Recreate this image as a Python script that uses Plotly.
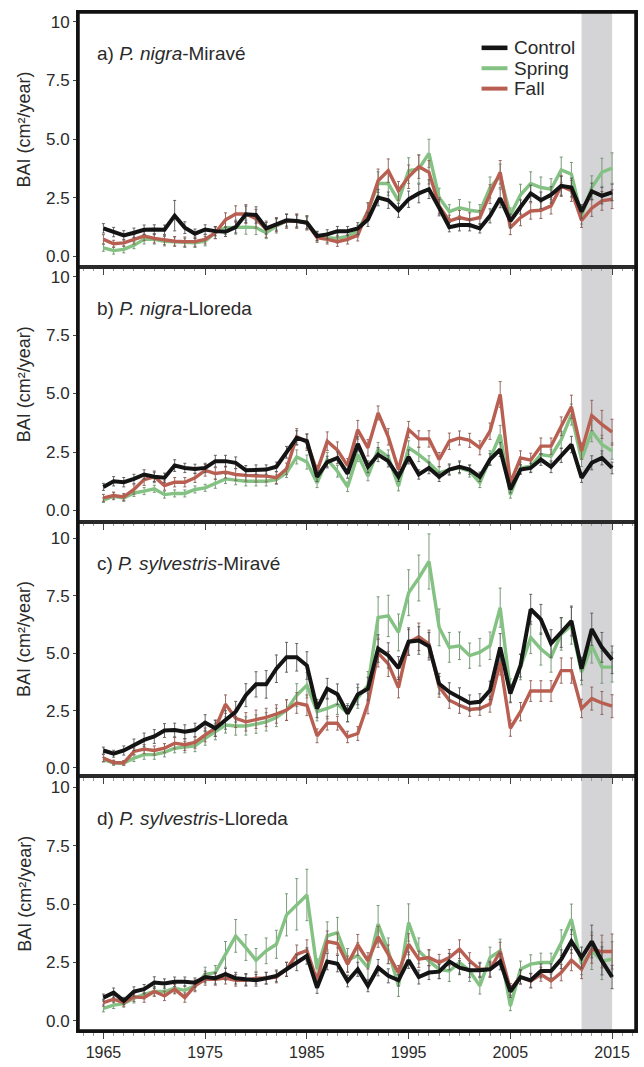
import plotly.graph_objects as go
from plotly.subplots import make_subplots

years = list(range(1965, 2016))

# ---- a) P. nigra - Miravé ----
control_a = [1.19, 1.03, 0.89, 1.0, 1.13, 1.14, 1.13, 1.73, 1.22, 0.96,
             1.14, 1.07, 1.04, 1.24, 1.79, 1.76, 1.19, 1.36, 1.53, 1.5,
             1.43, 0.86, 0.93, 1.07, 1.07, 1.18,
             1.57, 2.5, 2.39, 1.96, 2.43, 2.68, 2.86, 2.07, 1.24, 1.33,
             1.33, 1.19, 1.72, 2.47, 1.5, 2.1, 2.68, 2.39, 2.62, 3.0,
             2.93, 1.9, 2.77, 2.58, 2.72]
spring_a = [0.36, 0.24, 0.29, 0.47, 0.72, 0.72, 0.64, 0.62, 0.57, 0.57,
            0.64, 1.0, 1.22, 1.24, 1.24, 1.22, 1.0, 1.29, 1.5, 1.5,
            1.43, 0.86, 0.79, 0.76, 0.86, 1.07,
            1.93, 3.1, 3.1, 2.36, 3.65, 3.72, 4.39, 2.5, 1.9, 2.07,
            1.96, 1.9, 2.93, 3.43, 1.76, 2.62, 3.1, 2.93, 2.86, 3.68,
            3.5, 1.72, 2.93, 3.58, 3.76]
fall_a = [0.72, 0.53, 0.57, 0.72, 0.86, 0.76, 0.69, 0.64, 0.62, 0.62,
          0.72, 1.0, 1.55, 1.8, 1.8, 1.6, 1.15, 1.35, 1.5, 1.5,
          1.42, 0.79, 0.72, 0.62, 0.72, 0.9,
          1.93, 3.22, 3.65, 2.79, 3.39, 3.82, 3.58, 2.15, 1.5, 1.65,
          1.55, 1.65, 2.65, 3.58, 1.22, 1.65, 1.93, 1.96, 2.15, 3.0,
          2.79, 1.53, 2.05, 2.36, 2.43]
err_control_a = [0.2, 0.2, 0.2, 0.2, 0.2, 0.2, 0.2, 0.65, 0.25, 0.2,
                 0.2, 0.2, 0.2, 0.25, 0.35, 0.35, 0.25, 0.25, 0.25, 0.25,
                 0.25, 0.2, 0.2, 0.2, 0.2, 0.25,
                 0.3, 0.35, 0.35, 0.3, 0.35, 0.4, 0.4, 0.35, 0.2,
                 0.25, 0.25, 0.2, 0.3, 0.4, 0.3, 0.3, 0.35, 0.35, 0.35, 0.4,
                 0.4, 0.3, 0.35, 0.35, 0.35]
err_spring_a = [0.15, 0.15, 0.15, 0.15, 0.2, 0.2, 0.2, 0.2, 0.2, 0.2,
                0.2, 0.25, 0.3, 0.3, 0.3, 0.3, 0.25, 0.3, 0.3, 0.3,
                0.3, 0.2, 0.2, 0.2, 0.2, 0.25,
                0.35, 0.5, 0.5, 0.4, 0.55, 0.6, 0.6, 0.4, 0.3,
                0.35, 0.35, 0.3, 0.45, 0.5, 0.3, 0.45, 0.5, 0.45, 0.45, 0.55,
                0.5, 0.35, 0.5, 0.6, 0.65]
err_fall_a = [0.2, 0.15, 0.15, 0.2, 0.2, 0.2, 0.2, 0.2, 0.2, 0.2,
              0.2, 0.25, 0.3, 0.35, 0.4, 0.4, 0.35, 0.3, 0.3, 0.3,
              0.3, 0.2, 0.2, 0.2, 0.2, 0.25,
              0.35, 0.5, 0.5, 0.4, 0.5, 0.5, 0.5, 0.35, 0.25,
              0.3, 0.3, 0.3, 0.4, 0.5, 0.3, 0.35, 0.35, 0.35, 0.35, 0.45,
              0.45, 0.3, 0.35, 0.4, 0.4]

# ---- b) P. nigra - Lloreda ----
control_b = [1.01, 1.25, 1.21, 1.35, 1.54, 1.44, 1.40, 1.92, 1.82, 1.78,
             1.82, 2.11, 2.11, 2.04, 1.72, 1.75, 1.75, 1.87, 2.49, 3.11,
             2.97, 1.44, 2.07, 2.25, 1.58, 2.85,
             1.87, 2.39, 2.11, 1.44, 2.29, 1.54, 1.82, 1.44, 1.75, 1.87,
             1.75, 1.44, 2.18, 2.61, 0.90, 1.75, 1.82, 2.18, 1.87, 2.35,
             2.82, 1.40, 2.04, 2.25, 1.82]
spring_b = [0.44, 0.61, 0.54, 0.75, 0.83, 0.93, 0.68, 0.73, 0.73, 0.90,
            0.97, 1.15, 1.35, 1.30, 1.25, 1.25, 1.25, 1.32, 1.61, 2.29,
            2.07, 1.18, 2.18, 1.68, 1.01, 2.39,
            1.47, 2.61, 2.29, 1.04, 2.68, 2.39, 2.04, 1.61, 1.75, 1.82,
            1.68, 1.18, 2.25, 3.24, 0.68, 1.82, 1.89, 2.39, 2.32, 3.03,
            4.10, 2.18, 3.39, 2.82, 2.54]
fall_b = [0.54, 0.64, 0.58, 0.90, 1.32, 1.44, 1.07, 1.21, 1.21, 1.40,
          1.72, 1.58, 1.64, 1.54, 1.50, 1.47, 1.47, 1.40, 1.78, 3.15,
          2.92, 1.68, 2.96, 2.58, 1.92, 3.45,
          2.68, 4.17, 3.15, 1.75, 3.46, 3.06, 3.06, 2.18, 2.96, 3.10,
          3.00, 2.68, 3.39, 4.96, 1.18, 2.25, 2.15, 2.75, 2.75, 3.60,
          4.43, 2.54, 4.06, 3.68, 3.35]
err_control_b = [0.15, 0.2, 0.2, 0.2, 0.2, 0.2, 0.2, 0.25, 0.2, 0.2,
                 0.2, 0.25, 0.25, 0.25, 0.2, 0.2, 0.2, 0.2, 0.25, 0.3,
                 0.3, 0.2, 0.25, 0.25, 0.2, 0.3,
                 0.25, 0.3, 0.25, 0.2, 0.3, 0.2, 0.25, 0.2, 0.2,
                 0.25, 0.2, 0.2, 0.25, 0.3, 0.15, 0.2, 0.2, 0.25, 0.25, 0.3,
                 0.35, 0.2, 0.3, 0.3, 0.25]
err_spring_b = [0.1, 0.15, 0.15, 0.15, 0.15, 0.15, 0.15, 0.15, 0.15, 0.15,
                0.15, 0.2, 0.2, 0.2, 0.2, 0.2, 0.2, 0.2, 0.2, 0.3,
                0.3, 0.2, 0.3, 0.25, 0.2, 0.3,
                0.2, 0.3, 0.3, 0.2, 0.3, 0.3, 0.3, 0.25, 0.25,
                0.25, 0.25, 0.2, 0.3, 0.4, 0.15, 0.25, 0.25, 0.3, 0.3, 0.35,
                0.45, 0.3, 0.45, 0.4, 0.35]
err_fall_b = [0.15, 0.15, 0.15, 0.2, 0.25, 0.25, 0.2, 0.2, 0.2, 0.2,
              0.25, 0.25, 0.25, 0.25, 0.25, 0.25, 0.25, 0.25, 0.25, 0.35,
              0.35, 0.25, 0.4, 0.35, 0.3, 0.4,
              0.35, 0.3, 0.35, 0.25, 0.35, 0.35, 0.35, 0.3, 0.35,
              0.3, 0.3, 0.3, 0.35, 0.55, 0.2, 0.3, 0.3, 0.35, 0.35, 0.4,
              0.5, 0.35, 0.65, 0.6, 0.55]

# ---- c) P. sylvestris - Miravé ----
control_c = [0.76, 0.62, 0.76, 1.01, 1.22, 1.37, 1.63, 1.65, 1.58, 1.65,
             1.97, 1.73, 2.09, 2.45, 3.17, 3.64, 3.64, 4.32, 4.82, 4.82,
             4.46, 2.59, 3.45, 3.21, 2.37, 3.2,
             3.45, 5.2, 4.9, 4.35, 5.5, 5.55, 5.3, 3.67, 3.31, 3.09,
             2.83, 2.88, 3.38, 5.25, 3.24, 4.46, 6.91, 6.47, 5.42, 5.9,
             6.4, 4.32, 6.04, 5.25, 4.71]
spring_c = [0.36, 0.22, 0.22, 0.43, 0.58, 0.58, 0.68, 0.86, 0.91, 0.96,
            1.29, 1.58, 1.87, 1.83, 1.83, 1.91, 2.01, 2.20, 2.52, 3.17,
            3.60, 2.45, 2.59, 2.78, 2.40, 3.05,
            3.60, 6.55, 6.62, 5.90, 7.63, 8.27, 8.99, 6.12, 5.25, 5.32,
            4.89, 5.04, 5.32, 6.98, 3.38, 4.39, 5.68, 5.18, 4.82, 5.83,
            6.19, 4.17, 5.32, 4.39, 4.39]
fall_c = [0.43, 0.24, 0.22, 0.72, 0.82, 0.76, 0.86, 1.08, 1.01, 1.11,
          1.44, 1.73, 2.78, 2.16, 2.01, 2.12, 2.20, 2.35, 2.52, 2.83,
          2.73, 1.4, 1.95, 1.95, 1.35, 1.5,
          2.81, 5.0, 4.53, 3.5, 5.47, 5.71, 5.40, 3.53, 2.95, 2.73,
          2.55, 2.59, 2.78, 4.60, 1.73, 2.45, 3.35, 3.35, 3.35, 4.24,
          4.24, 2.59, 3.02, 2.83, 2.69]
err_control_c = [0.15, 0.15, 0.2, 0.25, 0.3, 0.3, 0.3, 0.3, 0.3, 0.3,
                 0.35, 0.35, 0.4, 0.45, 0.5, 0.55, 0.6, 0.6, 0.65, 0.6,
                 0.6, 0.4, 0.45, 0.45, 0.35, 0.45,
                 0.5, 0.6, 0.55, 0.5, 0.6, 0.6, 0.6, 0.45, 0.4,
                 0.4, 0.35, 0.35, 0.4, 0.6, 0.4, 0.5, 0.65, 0.65, 0.6, 0.65,
                 0.65, 0.5, 0.7, 0.65, 0.6]
err_spring_c = [0.1, 0.1, 0.1, 0.15, 0.2, 0.2, 0.2, 0.2, 0.25, 0.25,
                0.3, 0.35, 0.35, 0.4, 0.4, 0.4, 0.4, 0.4, 0.45, 0.5,
                0.55, 0.4, 0.45, 0.45, 0.4, 0.45,
                0.6, 0.9, 0.9, 0.8, 1.0, 1.0, 1.2, 0.8, 0.65,
                0.6, 0.55, 0.6, 0.6, 0.85, 0.5, 0.55, 0.7, 0.7, 0.65, 0.7,
                0.8, 0.55, 0.75, 0.7, 0.65]
err_fall_c = [0.15, 0.1, 0.1, 0.15, 0.2, 0.2, 0.2, 0.25, 0.25, 0.25,
              0.3, 0.35, 0.4, 0.4, 0.4, 0.4, 0.4, 0.4, 0.45, 0.45,
              0.45, 0.3, 0.3, 0.3, 0.25, 0.3,
              0.45, 0.6, 0.55, 0.45, 0.55, 0.6, 0.6, 0.45, 0.35,
              0.35, 0.3, 0.3, 0.35, 0.55, 0.35, 0.4, 0.45, 0.45, 0.45, 0.55,
              0.55, 0.4, 0.5, 0.5, 0.5]

# ---- d) P. sylvestris - Lloreda ----
control_d = [1.00, 1.21, 0.86, 1.26, 1.36, 1.64, 1.60, 1.68, 1.68, 1.64,
             1.88, 1.83, 2.00, 1.83, 1.78, 1.74, 1.83, 1.93, 2.21, 2.50,
             2.78, 1.43, 2.54, 2.45, 1.71, 2.21,
             1.50, 2.28, 1.93, 1.74, 2.60, 1.88, 2.07, 2.11, 2.54, 2.28,
             2.17, 2.17, 2.21, 2.54, 1.26, 1.88, 1.74, 2.14, 2.14, 2.64,
             3.40, 2.71, 3.40, 2.57, 1.88]
spring_d = [0.54, 0.68, 0.74, 0.97, 1.14, 1.26, 1.26, 1.40, 1.31, 1.50,
            2.00, 2.07, 2.85, 3.64, 3.14, 2.60, 3.00, 3.28, 4.54, 4.99,
            5.39, 2.21, 3.64, 3.78, 2.60, 2.8,
            2.28, 4.14, 3.00, 1.50, 4.21, 3.00, 2.57, 2.21, 2.14, 2.50,
            2.14, 1.50, 2.71, 3.00, 0.64, 2.21, 2.43, 2.50, 2.50, 3.35,
            4.35, 2.43, 3.00, 2.57, 2.64]
fall_d = [0.78, 0.93, 0.78, 1.03, 1.00, 1.26, 1.07, 1.36, 1.00, 1.50,
          1.78, 1.78, 1.83, 1.74, 1.74, 1.83, 1.83, 1.88, 2.21, 2.85,
          3.02, 1.71, 3.40, 3.31, 2.43, 3.25,
          2.57, 3.60, 2.85, 2.07, 3.28, 2.64, 2.71, 2.50, 2.71, 3.07,
          2.57, 2.21, 2.21, 2.97, 1.35, 1.88, 1.71, 2.00, 1.71, 2.07,
          2.60, 2.21, 3.07, 2.97, 2.97]
err_control_d = [0.15, 0.2, 0.15, 0.2, 0.2, 0.25, 0.2, 0.2, 0.2, 0.2,
                 0.25, 0.25, 0.25, 0.25, 0.25, 0.25, 0.25, 0.25, 0.3, 0.35,
                 0.35, 0.25, 0.35, 0.35, 0.25, 0.3,
                 0.25, 0.35, 0.3, 0.25, 0.35, 0.3, 0.3, 0.3, 0.35,
                 0.3, 0.3, 0.3, 0.3, 0.35, 0.25, 0.3, 0.3, 0.3, 0.3, 0.4,
                 0.5, 0.45, 0.7, 0.6, 0.5]
err_spring_d = [0.15, 0.15, 0.15, 0.2, 0.2, 0.2, 0.2, 0.2, 0.2, 0.2,
                0.3, 0.3, 0.55, 0.7, 0.55, 0.5, 0.55, 0.6, 0.9, 1.1,
                1.1, 0.45, 0.6, 0.65, 0.5, 0.55,
                0.5, 0.8, 0.55, 0.45, 0.8, 0.55, 0.45, 0.4, 0.45,
                0.45, 0.45, 0.35, 0.45, 0.5, 0.2, 0.35, 0.4, 0.4, 0.4, 0.55,
                0.65, 0.45, 0.8, 0.8, 0.75]
err_fall_d = [0.15, 0.15, 0.15, 0.2, 0.2, 0.2, 0.2, 0.2, 0.2, 0.25,
              0.25, 0.25, 0.25, 0.25, 0.25, 0.25, 0.25, 0.25, 0.3, 0.4,
              0.45, 0.3, 0.45, 0.45, 0.35, 0.45,
              0.35, 0.45, 0.4, 0.3, 0.45, 0.35, 0.35, 0.35, 0.35,
              0.4, 0.35, 0.3, 0.35, 0.4, 0.25, 0.3, 0.3, 0.3, 0.3, 0.35,
              0.45, 0.4, 0.6, 0.7, 0.75]

panel_titles = ["a) <i>P. nigra</i>-Miravé",
                "b) <i>P. nigra</i>-Lloreda",
                "c) <i>P. sylvestris</i>-Miravé",
                "d) <i>P. sylvestris</i>-Lloreda"]
series_names = ["Control", "Spring", "Fall"]
y_ticks = [0, 2.5, 5, 7.5, 10]
y_tick_text = ["0.0", "2.5", "5.0", "7.5", "10"]
x_ticks = [1965, 1975, 1985, 1995, 2005, 2015]
shade_years = (2012, 2015)

panels = [
    (control_a, spring_a, fall_a, err_control_a, err_spring_a, err_fall_a),
    (control_b, spring_b, fall_b, err_control_b, err_spring_b, err_fall_b),
    (control_c, spring_c, fall_c, err_control_c, err_spring_c, err_fall_c),
    (control_d, spring_d, fall_d, err_control_d, err_spring_d, err_fall_d),
]
y_ranges = [[-0.45, 10.42], [-0.47, 10.42], [-0.36, 10.73], [-0.43, 10.47]]

series_style = {
    "Control": dict(color="#141414", width=4.0, err="#555555"),
    "Spring": dict(color="#84c284", width=3.4, err="#6d8f6d"),
    "Fall": dict(color="#b95f52", width=3.4, err="#8c5a52"),
}

FONT = "Liberation Sans, Arial, sans-serif"
TEXT = "#2a2a2a"

# plot area in pixels: left 78, right 638, top 12, bottom 1036
PLOT_L, PLOT_W, PLOT_B, PLOT_H = 78, 560, 1036, 1024


def px_x(p):
    return (p - PLOT_L) / PLOT_W


def px_y(p):
    return (PLOT_B - p) / PLOT_H


fig = make_subplots(rows=4, cols=1, vertical_spacing=0)

for i, (ctrl, spr, fal, e_ctrl, e_spr, e_fal) in enumerate(panels):
    row = i + 1
    for name, vals, errs in (("Spring", spr, e_spr), ("Fall", fal, e_fal),
                             ("Control", ctrl, e_ctrl)):
        st = series_style[name]
        fig.add_trace(go.Scatter(
            x=years, y=vals, mode="lines", name=name,
            line=dict(color=st["color"], width=st["width"]),
            error_y=dict(type="data", array=errs, visible=True,
                         color=st["err"], thickness=0.9, width=1.5),
            showlegend=False, hoverinfo="skip"), row=row, col=1)

    fig.update_yaxes(range=y_ranges[i], tickvals=y_ticks, ticktext=y_tick_text,
                     ticks="outside", ticklen=3, tickwidth=1, tickcolor="#444",
                     showgrid=False, zeroline=False, showline=True, mirror=True,
                     linecolor="#2a2a2a", linewidth=2,
                     tickfont=dict(size=17, color=TEXT, family=FONT),
                     row=row, col=1)
    fig.update_xaxes(range=[1962.5, 2017.35], tickvals=x_ticks,
                     ticks="outside", ticklen=6, tickwidth=1, tickcolor="#444",
                     minor=dict(dtick=1, tick0=1965, ticks="outside", ticklen=2.5,
                                tickcolor="#999", tickwidth=1),
                     showgrid=False, zeroline=False, showline=True, mirror=True,
                     linecolor="#2a2a2a", linewidth=2,
                     showticklabels=(row == 4),
                     tickfont=dict(size=16, color=TEXT, family=FONT),
                     row=row, col=1)

# shaded period across all panels
fig.add_shape(type="rect", xref="x", yref="paper",
              x0=shade_years[0], x1=shade_years[1], y0=0, y1=1,
              fillcolor="#d4d4d7", line=dict(width=0), layer="below")

# outer frame
fig.add_shape(type="rect", xref="paper", yref="paper", x0=0, x1=1, y0=0, y1=1,
              line=dict(color="#111111", width=3.5), fillcolor="rgba(0,0,0,0)")

panel_tops = [1.0, 0.75, 0.5, 0.25]
for i, title in enumerate(panel_titles):
    fig.add_annotation(text=title, xref="paper", yref="paper",
                       x=px_x(95), y=panel_tops[i] - 42 / PLOT_H,
                       xanchor="left", yanchor="middle", showarrow=False,
                       font=dict(size=19, color=TEXT, family=FONT))
    fig.add_annotation(text="BAI (cm²/year)", xref="paper", yref="paper",
                       x=px_x(24), y=panel_tops[i] - 0.125 + 10 / PLOT_H,
                       xanchor="center", yanchor="middle", textangle=-90,
                       showarrow=False,
                       font=dict(size=18, color=TEXT, family=FONT))

# legend keys in panel a
legend_rows = [48, 68.5, 89]
for name, row_y in zip(series_names, legend_rows):
    st = series_style[name]
    fig.add_shape(type="line", xref="paper", yref="paper",
                  x0=px_x(483), x1=px_x(509), y0=px_y(row_y), y1=px_y(row_y),
                  line=dict(color=st["color"], width=st["width"] + 0.6))
    fig.add_annotation(text=name, xref="paper", yref="paper",
                       x=px_x(514), y=px_y(row_y), xanchor="left",
                       yanchor="middle", showarrow=False,
                       font=dict(size=19, color=TEXT, family=FONT))

fig.update_layout(
    width=644, height=1067,
    margin=dict(l=78, r=6, t=12, b=31),
    paper_bgcolor="white", plot_bgcolor="rgba(0,0,0,0)",
    font=dict(family=FONT, color=TEXT, size=16),
    showlegend=False,
)

fig.write_html("out.html")
